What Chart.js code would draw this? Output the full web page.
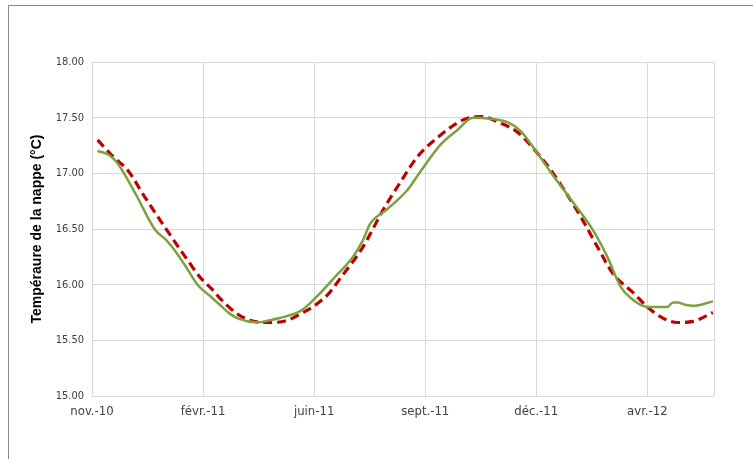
<!DOCTYPE html>
<html>
<head>
<meta charset="utf-8">
<script src="https://cdn.jsdelivr.net/npm/chart.js@4.4.0/dist/chart.umd.min.js"></script>
<style>
  body { margin: 0; background: #fff; }
  #wrap { position: relative; width: 753px; height: 459px; overflow: hidden; }
  #cadre { position: absolute; left: 8px; top: 5px; width: 800px; height: 500px;
           border-top: 1px solid #8a8a8a; border-left: 1px solid #8a8a8a; }
  canvas { position: absolute; left: 0; top: 0; }
</style>
</head>
<body>
<div id="wrap">
  <div id="cadre"></div>
  <canvas id="myChart" width="753" height="459"></canvas>
</div>
<script>
// jours depuis le début de l'axe (1 graduation = 100 jours)
let tickLabels = ["nov.-10", "févr.-11", "juin-11", "sept.-11", "déc.-11", "avr.-12"];

// température mesurée (courbe verte)
let joursMesure = [5, 12, 16, 23, 39, 57, 66, 72, 84, 95, 106, 115, 124, 133, 149, 160, 169, 187, 196, 205, 217, 235, 244, 250, 266, 284, 296, 314, 329, 343, 359, 374, 386, 401, 413, 433, 451, 464, 476, 485, 500, 518, 523, 527, 534, 541, 559];
let tempMesure = [17.20, 17.18, 17.16, 17.09, 16.82, 16.49, 16.41, 16.34, 16.17, 16.00, 15.90, 15.82, 15.74, 15.69, 15.66, 15.68, 15.70, 15.76, 15.83, 15.92, 16.05, 16.25, 16.40, 16.54, 16.68, 16.85, 17.02, 17.26, 17.39, 17.50, 17.49, 17.46, 17.38, 17.18, 17.01, 16.74, 16.49, 16.25, 15.98, 15.88, 15.80, 15.80, 15.84, 15.84, 15.82, 15.81, 15.85];

// température modélisée (pointillés rouges)
let joursModele = [5, 19, 32, 48, 66, 84, 97, 108, 115, 129, 142, 160, 176, 190, 203, 214, 223, 244, 262, 277, 293, 311, 334, 350, 368, 383, 395, 413, 440, 455, 469, 487, 500, 514, 527, 541, 559];
let tempModele = [17.30, 17.15, 17.03, 16.78, 16.51, 16.25, 16.07, 15.96, 15.88, 15.75, 15.68, 15.66, 15.68, 15.75, 15.83, 15.93, 16.05, 16.34, 16.67, 16.91, 17.15, 17.32, 17.48, 17.51, 17.45, 17.37, 17.25, 17.03, 16.61, 16.34, 16.10, 15.93, 15.80, 15.70, 15.66, 15.67, 15.75];

function points(xs, ys) {
  let res = [];
  for (let i = 0; i < xs.length; i++) {
    res.push({ x: xs[i], y: ys[i] });
  }
  return res;
}

const ctx = document.getElementById("myChart").getContext("2d");
const myChart = new Chart(ctx, {
  type: "line",
  data: {
    datasets: [
      {
        label: "Mesure",
        data: points(joursMesure, tempMesure),
        borderColor: "#79a33f",
        borderWidth: 2.5,
        pointRadius: 0,
        cubicInterpolationMode: "monotone",
      },
      {
        label: "Modèle",
        data: points(joursModele, tempModele),
        borderColor: "#c00000",
        borderWidth: 3.2,
        borderDash: [9, 5],
        pointRadius: 0,
        cubicInterpolationMode: "monotone",
      },
    ],
  },
  options: {
    responsive: false,
    animation: false,
    devicePixelRatio: 1,
    layout: { padding: { left: 25, right: 39, top: 62, bottom: 33 } },
    plugins: { legend: { display: false }, tooltip: { enabled: false } },
    scales: {
      x: {
        type: "linear",
        min: 0,
        max: 560,
        grid: { color: "#d9d9d9", drawTicks: false },
        border: { display: false },
        ticks: {
          stepSize: 100,
          padding: 8,
          color: "#404040",
          maxRotation: 0,
          autoSkip: false,
          font: { family: "'DejaVu Sans Condensed', sans-serif", size: 13 },
          callback: function (value) {
            let lbl = tickLabels[value / 100];
            return lbl === undefined ? "" : lbl;
          },
        },
        afterFit: function (scale) { scale.height = 30; },
      },
      y: {
        min: 15,
        max: 18,
        grid: { color: "#d9d9d9", drawTicks: false },
        border: { display: false },
        ticks: {
          stepSize: 0.5,
          padding: 8,
          color: "#404040",
          font: { family: "'DejaVu Sans Condensed', sans-serif", size: 11 },
          callback: function (value) { return value.toFixed(2); },
        },
        title: {
          display: true,
          text: "Tempéraure de la nappe (°C)",
          color: "#000",
          font: { family: "'Liberation Sans', Arial, sans-serif", size: 14, weight: "bold" },
        },
        afterFit: function (scale) { scale.width = 67; },
      },
    },
  },
});
</script>
</body>
</html>
